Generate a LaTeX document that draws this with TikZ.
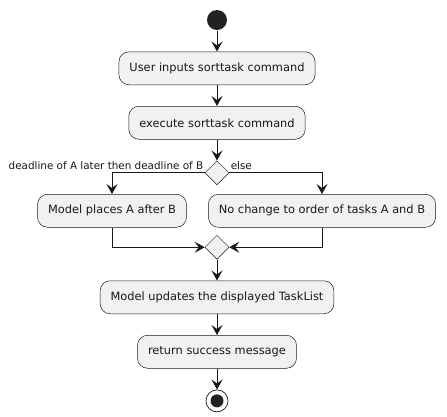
\documentclass[tikz,border=0pt]{standalone}
\usepackage{fontspec}
\setmainfont{DejaVu Sans}
\usetikzlibrary{positioning,arrows.meta,shapes.geometric}
\definecolor{actfill}{HTML}{F1F1F1}
\definecolor{actline}{HTML}{181818}
\definecolor{dot}{HTML}{222222}

\begin{document}
\begin{tikzpicture}[-{Stealth[length=10pt,width=11pt,inset=4pt]},
    node distance=21pt,
    line width=1pt,
    color=actline,
    action/.style={draw=actline, line width=0.5pt, fill=actfill,
      rounded corners=10pt, minimum height=33pt, inner xsep=10.5pt,
      font=\fontsize{11.4}{13}\selectfont},
    branch/.style={diamond, draw=actline, line width=0.5pt, fill=actfill,
      minimum width=24pt, minimum height=24pt, inner sep=0pt, aspect=1},
    guard/.style={font=\fontsize{10.4}{12}\selectfont, inner xsep=1pt, inner ysep=3pt}]
    \useasboundingbox (0,0) rectangle (447pt,-416pt);
    \node[circle, fill=dot, minimum size=20pt, inner sep=0pt] (start) at (217pt,-20pt) {};
    \node[action] (input) [below=of start] {User inputs sorttask command};
    \node[action] (exec) [below=of input] {execute sorttask command};
    \node[branch] (dec) [below=of exec] {};
    \node[action] (after) [below=9pt of dec, xshift=-105pt] {Model places A after B};
    \node[action] (keep) [below=9pt of dec, xshift=105pt] {No change to order of tasks A and B};
    \node[branch] (merge) [below=50pt of dec] {};
    \node[action] (update) [below=of merge] {Model updates the displayed TaskList};
    \node[action] (ret) [below=of update] {return success message};
    \node[circle, draw=actline, line width=0.7pt, fill=white, minimum size=22pt, inner sep=0pt] (stop) [below=of ret] {};
    \node[circle, fill=dot, minimum size=13pt, inner sep=0pt] at (stop) {};

    \node[guard, anchor=south east] (yes) at (dec.west) {deadline of A later then deadline of B};
    \node[guard, anchor=south west] (no) at (dec.east) {else};

    \draw (start) -- (input);
    \draw (input) -- (exec);
    \draw (exec) -- (dec);
    \draw (dec.west) -| (after.north);
    \draw (dec.east) -| (keep.north);
    \draw (after.south) |- (merge.west);
    \draw (keep.south) |- (merge.east);
    \draw (merge) -- (update);
    \draw (update) -- (ret);
    \draw (ret) -- (stop);
\end{tikzpicture}
\end{document}
